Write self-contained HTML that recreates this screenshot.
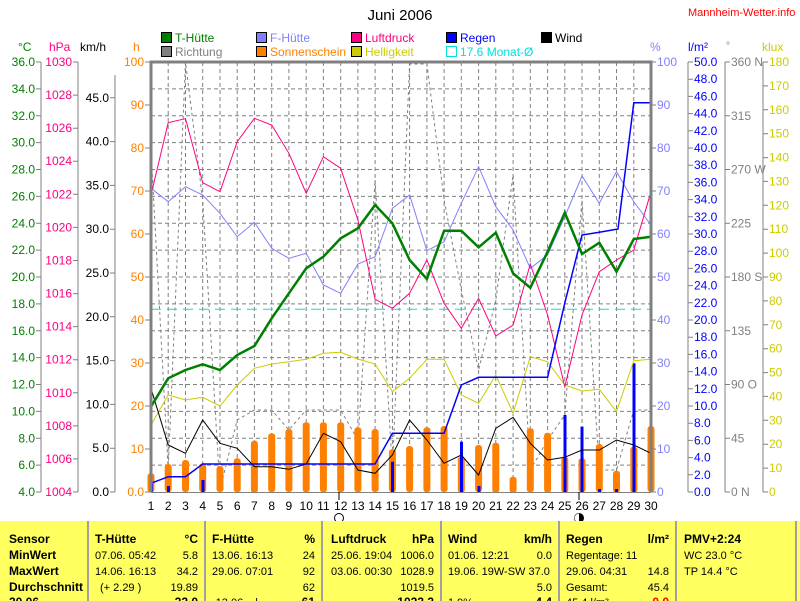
<!DOCTYPE html>
<html><head><meta charset="utf-8"><style>
body{margin:0;background:#fff;width:800px;height:601px;overflow:hidden;font-family:"Liberation Sans",sans-serif}
svg{position:absolute;left:0;top:0}
text{font-family:"Liberation Sans",sans-serif;font-size:12px}
.tb text{font-size:11px}
.tb .b text{font-size:12px}
</style></head><body>
<svg width="800" height="601" viewBox="0 0 800 601" xmlns="http://www.w3.org/2000/svg">
<text x="400" y="20" font-size="15" text-anchor="middle" style="font-size:15px">Juni 2006</text>
<text x="688" y="16" fill="#ff0000" style="font-size:11px">Mannheim-Wetter.info</text>
<g stroke="#000" stroke-width="1">
<rect x="161.5" y="32.5" width="10" height="10" fill="#008000"/>
<rect x="161.5" y="46.5" width="10" height="10" fill="#808080"/>
<rect x="256.5" y="32.5" width="10" height="10" fill="#8080ff"/>
<rect x="256.5" y="46.5" width="10" height="10" fill="#ff8000"/>
<rect x="351.5" y="32.5" width="10" height="10" fill="#ff0080"/>
<rect x="351.5" y="46.5" width="10" height="10" fill="#cccc00"/>
<rect x="446.5" y="32.5" width="10" height="10" fill="#0000ff"/>
<rect x="541.5" y="32.5" width="10" height="10" fill="#000"/>
</g>
<rect x="446.5" y="46.5" width="10" height="10" fill="none" stroke="#00e0e0"/>
<text x="175" y="42" fill="#008000">T-Hütte</text>
<text x="175" y="56" fill="#808080">Richtung</text>
<text x="270" y="42" fill="#8080ff">F-Hütte</text>
<text x="270" y="56" fill="#ff8000">Sonnenschein</text>
<text x="365" y="42" fill="#ff0080">Luftdruck</text>
<text x="365" y="56" fill="#cccc00">Helligkeit</text>
<text x="460" y="42" fill="#0000ff">Regen</text>
<text x="460" y="56" fill="#00e0e0">17.6 Monat-Ø</text>
<text x="555" y="42" fill="#000">Wind</text>
<text x="18" y="51" fill="#008000">°C</text>
<text x="49" y="51" fill="#ff0080">hPa</text>
<text x="80" y="51" fill="#000">km/h</text>
<text x="133" y="51" fill="#ff8000">h</text>
<text x="650" y="51" fill="#8080ff">%</text>
<text x="688" y="51" fill="#0000ff">l/m²</text>
<text x="726" y="49" fill="#808080" style="font-size:10px">°</text>
<text x="762" y="51" fill="#cccc00">klux</text>

<g stroke="#808080" stroke-dasharray="4,3" stroke-width="1" fill="none">
<path d="M151 88.9H651M151 115.8H651M151 142.6H651M151 169.5H651M151 196.4H651M151 223.3H651M151 250.1H651M151 277H651M151 303.9H651M151 330.8H651M151 357.6H651M151 384.5H651M151 411.4H651M151 438.3H651M151 465.1H651"/>
<path d="M168.2 62V492M185.5 62V492M202.7 62V492M220 62V492M237.2 62V492M254.4 62V492M271.7 62V492M288.9 62V492M306.2 62V492M323.4 62V492M340.7 62V492M357.9 62V492M375.1 62V492M392.4 62V492M409.6 62V492M426.9 62V492M444.1 62V492M461.3 62V492M478.6 62V492M495.8 62V492M513.1 62V492M530.3 62V492M547.6 62V492M564.8 62V492M582 62V492M599.3 62V492M616.5 62V492M633.8 62V492"/>
</g>
<polyline fill="none" stroke="#808080" stroke-dasharray="3,3" points="151,150 168.2,470 185.5,62 202.7,200 220,490 237.2,420 254.4,410 271.7,410 288.9,430 306.2,410 323.4,410 340.7,410 357.9,440 375.1,180 392.4,470 409.6,64 426.9,64 444.1,200 461.3,290 478.6,370 495.8,300 513.1,175 530.3,470 547.6,440 564.8,415 582,200 599.3,470 616.5,470 633.8,410 651,410"/>
<line x1="151" y1="309.3" x2="651" y2="309.3" stroke="#00e0e0" stroke-dasharray="10,6" stroke-width="1"/>
<g fill="#ff8000">
<rect x="147.5" y="473.3" width="7" height="19" rx="3"/>
<rect x="164.7" y="464" width="7" height="28" rx="3"/>
<rect x="182" y="460" width="7" height="32" rx="3"/>
<rect x="199.2" y="463.3" width="7" height="29" rx="3"/>
<rect x="216.5" y="466" width="7" height="26" rx="3"/>
<rect x="233.7" y="458.3" width="7" height="34" rx="3"/>
<rect x="250.9" y="440.7" width="7" height="52" rx="3"/>
<rect x="268.2" y="433.3" width="7" height="59" rx="3"/>
<rect x="285.4" y="429" width="7" height="63" rx="3"/>
<rect x="302.7" y="422.3" width="7" height="70" rx="3"/>
<rect x="319.9" y="422.3" width="7" height="70" rx="3"/>
<rect x="337.2" y="422.3" width="7" height="70" rx="3"/>
<rect x="354.4" y="427.3" width="7" height="65" rx="3"/>
<rect x="371.6" y="429" width="7" height="63" rx="3"/>
<rect x="388.9" y="449.3" width="7" height="43" rx="3"/>
<rect x="406.1" y="446" width="7" height="46" rx="3"/>
<rect x="423.4" y="427.3" width="7" height="65" rx="3"/>
<rect x="440.6" y="426" width="7" height="66" rx="3"/>
<rect x="457.8" y="456.7" width="7" height="36" rx="3"/>
<rect x="475.1" y="445" width="7" height="47" rx="3"/>
<rect x="492.3" y="442.7" width="7" height="50" rx="3"/>
<rect x="509.6" y="476.7" width="7" height="16" rx="3"/>
<rect x="526.8" y="428.3" width="7" height="64" rx="3"/>
<rect x="544.1" y="432.7" width="7" height="60" rx="3"/>
<rect x="561.3" y="456.7" width="7" height="36" rx="3"/>
<rect x="578.5" y="458.3" width="7" height="34" rx="3"/>
<rect x="595.8" y="444" width="7" height="48" rx="3"/>
<rect x="613" y="470.7" width="7" height="22" rx="3"/>
<rect x="630.3" y="446.7" width="7" height="46" rx="3"/>
<rect x="647.5" y="426" width="7" height="66" rx="3"/>
</g>
<g fill="#0000ff">
<rect x="150" y="484" width="3" height="8"/>
<rect x="167" y="486" width="3" height="6"/>
<rect x="201.5" y="480" width="3" height="12"/>
<rect x="391" y="461.7" width="3" height="30.3"/>
<rect x="460" y="441.7" width="3" height="50.3"/>
<rect x="477.5" y="486" width="3" height="6"/>
<rect x="563.5" y="415" width="3" height="77"/>
<rect x="580.5" y="426.7" width="3" height="65.3"/>
<rect x="598" y="489" width="3" height="3"/>
<rect x="615" y="489" width="3" height="3"/>
<rect x="632.5" y="363.3" width="3" height="128.7"/>
</g>
<polyline fill="none" stroke="#cccc00" points="151,425 168.2,395 185.5,400 202.7,397.3 220,406 237.2,385 254.4,368.3 271.7,364 288.9,361.7 306.2,359.3 323.4,353.3 340.7,352.3 357.9,359 375.1,364 392.4,391.7 409.6,378.3 426.9,359.3 444.1,359.3 461.3,395 478.6,403.3 495.8,375 513.1,413.3 530.3,356.7 547.6,361.7 564.8,385 582,391 599.3,389.3 616.5,411.7 633.8,360.7 651,359.3"/>
<polyline fill="none" stroke="#8080ff" points="151,188.3 168.2,201.7 185.5,186.7 202.7,195 220,213.3 237.2,236.7 254.4,222.3 271.7,248.3 288.9,258.3 306.2,253.3 323.4,285 340.7,293.3 357.9,264 375.1,256.7 392.4,208.3 409.6,195 426.9,250.7 444.1,241.7 461.3,203.3 478.6,166.7 495.8,206.7 513.1,230 530.3,268.3 547.6,255 564.8,216.7 582,176 599.3,203.3 616.5,171.7 633.8,201.7 651,225"/>
<polyline fill="none" stroke="#ff0080" points="151,195 168.2,122.7 185.5,118.7 202.7,182.7 220,191.7 237.2,141.7 254.4,118.3 271.7,125 288.9,153.3 306.2,193.3 323.4,156.7 340.7,168.3 357.9,220 375.1,299.3 392.4,308.3 409.6,293.3 426.9,260 444,303.3 461.3,328.3 478.6,298.3 495.8,336 513.1,325 530.3,264 547.6,315 564.8,386.7 582,315 599.3,271.7 616.5,260 633.8,250 651,191.7"/>
<polyline fill="none" stroke="#000" points="151,388.3 168.2,445 185.5,453.3 202.7,420 220,443.3 237.2,448.3 254.4,466.7 271.7,466.7 288.9,469.3 306.2,464 323.4,433.3 340.7,441.7 357.9,470 375.1,473.3 392.4,455 409.6,420 426.9,440 444.1,463.3 461.3,455 478.6,475 495.8,428.3 513.1,417.3 530.3,443.3 547.6,460 564.8,457.3 582,450 599.3,450 616.5,440 633.8,445 651,453.3"/>
<polyline fill="none" stroke="#0000ff" stroke-width="1.5" points="151,483.3 168.2,476.7 185.5,476.7 202.7,464 375.1,464 392.4,433.3 444.1,433.3 461.3,385 478.6,377.3 547.6,377.3 564.8,303 582,235 599.3,232.3 616.5,229.3 618,229 633.8,102.7 651,102.7"/>
<polyline fill="none" stroke="#008000" stroke-width="2.5" points="151,406.7 168.2,378.3 185.5,370 202.7,364.3 220,370 237.2,355 254.4,346 271.7,318.3 288.9,293.3 306.2,268.3 323.4,256.7 340.7,238.3 357.9,228.3 375.1,205 392.4,223.3 409.6,260 426.9,279 444.1,230.7 461.3,230.7 478.6,247.3 495.8,232.7 513.1,273.3 530.3,287.7 547.6,251.7 564.8,212.7 582,254 599.3,242.7 616.5,271.7 633.8,239 651,236.7"/>
<path d="M151 492V62H651V492" fill="none" stroke="#808080" stroke-width="3"/>
<line x1="151" y1="492.5" x2="651" y2="492.5" stroke="#808080" stroke-width="1"/>
<g font-size="12" text-anchor="middle" fill="#000">
<text x="151" y="510">1</text><text x="168.2" y="510">2</text><text x="185.5" y="510">3</text><text x="202.7" y="510">4</text><text x="220" y="510">5</text><text x="237.2" y="510">6</text><text x="254.4" y="510">7</text><text x="271.7" y="510">8</text><text x="288.9" y="510">9</text><text x="306.2" y="510">10</text><text x="323.4" y="510">11</text><text x="340.7" y="510">12</text><text x="357.9" y="510">13</text><text x="375.1" y="510">14</text><text x="392.4" y="510">15</text><text x="409.6" y="510">16</text><text x="426.9" y="510">17</text><text x="444.1" y="510">18</text><text x="461.3" y="510">19</text><text x="478.6" y="510">20</text><text x="495.8" y="510">21</text><text x="513.1" y="510">22</text><text x="530.3" y="510">23</text><text x="547.6" y="510">24</text><text x="564.8" y="510">25</text><text x="582" y="510">26</text><text x="599.3" y="510">27</text><text x="616.5" y="510">28</text><text x="633.8" y="510">29</text><text x="651" y="510">30</text>
</g>
<line x1="339" y1="492" x2="339" y2="500" stroke="#000"/>
<line x1="579" y1="492" x2="579" y2="500" stroke="#000"/>
<circle cx="339" cy="518" r="4.5" fill="#fff" stroke="#000"/>
<circle cx="579" cy="518" r="4.5" fill="#000" stroke="#000"/>
<path d="M579 513.5a4.5 4.5 0 0 0 0 9z" fill="#fff"/>
<g stroke="#808080" fill="none">
<path d="M41 62V492M78 62V492M115 75V492"/>
<path d="M36 62H41M36 88.9H41M36 115.8H41M36 142.6H41M36 169.5H41M36 196.4H41M36 223.3H41M36 250.1H41M36 277H41M36 303.9H41M36 330.8H41M36 357.6H41M36 384.5H41M36 411.4H41M36 438.3H41M36 465.1H41M36 492H41"/>
<path d="M73 62H78M73 95.1H78M73 128.2H78M73 161.2H78M73 194.3H78M73 227.4H78M73 260.5H78M73 293.6H78M73 326.6H78M73 359.7H78M73 392.8H78M73 425.9H78M73 458.9H78M73 492H78"/>
<path d="M110 97.8H115M110 141.6H115M110 185.4H115M110 229.2H115M110 273H115M110 316.8H115M110 360.6H115M110 404.4H115M110 448.2H115M110 492H115"/>
<path d="M145 62H151M145 105H151M145 148H151M145 191H151M145 234H151M145 277H151M145 320H151M145 363H151M145 406H151M145 449H151M145 492H151"/>
<path d="M651 62H656M651 105H656M651 148H656M651 191H656M651 234H656M651 277H656M651 320H656M651 363H656M651 406H656M651 449H656M651 492H656"/>
<path d="M688 62V492M725 62V492M763 62V492"/>
<path d="M688 62H693M688 79.2H693M688 96.4H693M688 113.6H693M688 130.8H693M688 148H693M688 165.2H693M688 182.4H693M688 199.6H693M688 216.8H693M688 234H693M688 251.2H693M688 268.4H693M688 285.6H693M688 302.8H693M688 320H693M688 337.2H693M688 354.4H693M688 371.6H693M688 388.8H693M688 406H693M688 423.2H693M688 440.4H693M688 457.6H693M688 474.8H693M688 492H693"/>
<path d="M725 62H730M725 115.75H730M725 169.5H730M725 223.25H730M725 277H730M725 330.75H730M725 384.5H730M725 438.25H730M725 492H730"/>
<path d="M763 62H768M763 85.9H768M763 109.8H768M763 133.7H768M763 157.6H768M763 181.4H768M763 205.3H768M763 229.2H768M763 253.1H768M763 277H768M763 300.9H768M763 324.8H768M763 348.7H768M763 372.6H768M763 396.4H768M763 420.3H768M763 444.2H768M763 468.1H768M763 492H768"/>
</g>
<g text-anchor="end" fill="#008000">
<text x="35" y="66">36.0</text><text x="35" y="92.9">34.0</text><text x="35" y="119.8">32.0</text><text x="35" y="146.6">30.0</text><text x="35" y="173.5">28.0</text><text x="35" y="200.4">26.0</text><text x="35" y="227.3">24.0</text><text x="35" y="254.1">22.0</text><text x="35" y="281">20.0</text><text x="35" y="307.9">18.0</text><text x="35" y="334.8">16.0</text><text x="35" y="361.6">14.0</text><text x="35" y="388.5">12.0</text><text x="35" y="415.4">10.0</text><text x="35" y="442.3">8.0</text><text x="35" y="469.1">6.0</text><text x="35" y="496">4.0</text>
</g>
<g text-anchor="end" fill="#ff0080">
<text x="72" y="66">1030</text><text x="72" y="99.1">1028</text><text x="72" y="132.2">1026</text><text x="72" y="165.2">1024</text><text x="72" y="198.3">1022</text><text x="72" y="231.4">1020</text><text x="72" y="264.5">1018</text><text x="72" y="297.6">1016</text><text x="72" y="330.6">1014</text><text x="72" y="363.7">1012</text><text x="72" y="396.8">1010</text><text x="72" y="429.9">1008</text><text x="72" y="462.9">1006</text><text x="72" y="496">1004</text>
</g>
<g text-anchor="end" fill="#000">
<text x="109" y="101.8">45.0</text><text x="109" y="145.6">40.0</text><text x="109" y="189.4">35.0</text><text x="109" y="233.2">30.0</text><text x="109" y="277">25.0</text><text x="109" y="320.8">20.0</text><text x="109" y="364.6">15.0</text><text x="109" y="408.4">10.0</text><text x="109" y="452.2">5.0</text><text x="109" y="496">0.0</text>
</g>
<g text-anchor="end" fill="#ff8000">
<text x="144" y="66">100</text><text x="144" y="109">90</text><text x="144" y="152">80</text><text x="144" y="195">70</text><text x="144" y="238">60</text><text x="144" y="281">50</text><text x="144" y="324">40</text><text x="144" y="367">30</text><text x="144" y="410">20</text><text x="144" y="453">10</text><text x="144" y="496">0.0</text>
</g>
<g fill="#8080ff">
<text x="657" y="66">100</text><text x="657" y="109">90</text><text x="657" y="152">80</text><text x="657" y="195">70</text><text x="657" y="238">60</text><text x="657" y="281">50</text><text x="657" y="324">40</text><text x="657" y="367">30</text><text x="657" y="410">20</text><text x="657" y="453">10</text><text x="657" y="496">0</text>
</g>
<g fill="#0000ff">
<text x="694" y="66">50.0</text><text x="694" y="83.2">48.0</text><text x="694" y="100.4">46.0</text><text x="694" y="117.6">44.0</text><text x="694" y="134.8">42.0</text><text x="694" y="152">40.0</text><text x="694" y="169.2">38.0</text><text x="694" y="186.4">36.0</text><text x="694" y="203.6">34.0</text><text x="694" y="220.8">32.0</text><text x="694" y="238">30.0</text><text x="694" y="255.2">28.0</text><text x="694" y="272.4">26.0</text><text x="694" y="289.6">24.0</text><text x="694" y="306.8">22.0</text><text x="694" y="324">20.0</text><text x="694" y="341.2">18.0</text><text x="694" y="358.4">16.0</text><text x="694" y="375.6">14.0</text><text x="694" y="392.8">12.0</text><text x="694" y="410">10.0</text><text x="694" y="427.2">8.0</text><text x="694" y="444.4">6.0</text><text x="694" y="461.6">4.0</text><text x="694" y="478.8">2.0</text><text x="694" y="496">0.0</text>
</g>
<g fill="#808080">
<text x="731" y="66">360 N</text><text x="731" y="119.75">315</text><text x="731" y="173.5">270 W</text><text x="731" y="227.25">225</text><text x="731" y="281">180 S</text><text x="731" y="334.75">135</text><text x="731" y="388.5">90  O</text><text x="731" y="442.25">45</text><text x="731" y="496">0  N</text>
</g>
<g fill="#cccc00">
<text x="769" y="66">180</text><text x="769" y="89.9">170</text><text x="769" y="113.8">160</text><text x="769" y="137.7">150</text><text x="769" y="161.6">140</text><text x="769" y="185.4">130</text><text x="769" y="209.3">120</text><text x="769" y="233.2">110</text><text x="769" y="257.1">100</text><text x="769" y="281">90</text><text x="769" y="304.9">80</text><text x="769" y="328.8">70</text><text x="769" y="352.7">60</text><text x="769" y="376.6">50</text><text x="769" y="400.4">40</text><text x="769" y="424.3">30</text><text x="769" y="448.2">20</text><text x="769" y="472.1">10</text><text x="769" y="496">0</text>
</g>

<rect x="0" y="521" width="800" height="80" fill="#ffff60"/>
<g stroke="#a0a0a0" stroke-width="2">
<line x1="88" y1="521" x2="88" y2="601"/><line x1="205" y1="521" x2="205" y2="601"/><line x1="322" y1="521" x2="322" y2="601"/><line x1="441" y1="521" x2="441" y2="601"/><line x1="559" y1="521" x2="559" y2="601"/><line x1="676" y1="521" x2="676" y2="601"/><line x1="796" y1="521" x2="796" y2="601"/>
</g>
<g fill="#000" class="tb">
<g font-weight="bold" class="b">
<text x="9" y="543">Sensor</text><text x="9" y="559">MinWert</text><text x="9" y="575">MaxWert</text><text x="9" y="591">Durchschnitt</text><text x="9" y="606">20.06.</text>
<text x="95" y="543">T-Hütte</text><text x="198" y="543" text-anchor="end">°C</text>
<text x="212" y="543">F-Hütte</text><text x="315" y="543" text-anchor="end">%</text>
<text x="331" y="543">Luftdruck</text><text x="434" y="543" text-anchor="end">hPa</text>
<text x="448" y="543">Wind</text><text x="552" y="543" text-anchor="end">km/h</text>
<text x="566" y="543">Regen</text><text x="669" y="543" text-anchor="end">l/m²</text>
<text x="684" y="543">PMV+2:24</text>
<text x="198" y="606" text-anchor="end">22.0</text><text x="315" y="606" text-anchor="end">61</text><text x="434" y="606" text-anchor="end">1023.3</text><text x="552" y="606" text-anchor="end">4.4</text><text x="669" y="606" text-anchor="end" fill="#ff0000">0.0</text>
</g>
<text x="95" y="559">07.06.  05:42</text><text x="198" y="559" text-anchor="end">5.8</text>
<text x="95" y="575">14.06.  16:13</text><text x="198" y="575" text-anchor="end">34.2</text>
<text x="100" y="591">(+ 2.29 )</text><text x="198" y="591" text-anchor="end">19.89</text>
<text x="212" y="559">13.06.  16:13</text><text x="315" y="559" text-anchor="end">24</text>
<text x="212" y="575">29.06.  07:01</text><text x="315" y="575" text-anchor="end">92</text>
<text x="315" y="591" text-anchor="end">62</text>
<text x="331" y="559">25.06.  19:04</text><text x="434" y="559" text-anchor="end">1006.0</text>
<text x="331" y="575">03.06.  00:30</text><text x="434" y="575" text-anchor="end">1028.9</text>
<text x="434" y="591" text-anchor="end">1019.5</text>
<text x="448" y="559">01.06.  12:21</text><text x="552" y="559" text-anchor="end">0.0</text>
<text x="448" y="575">19.06.  19W-SW 37.0</text>
<text x="552" y="591" text-anchor="end">5.0</text>
<text x="566" y="559">Regentage: 11</text>
<text x="566" y="575">29.06.  04:31</text><text x="669" y="575" text-anchor="end">14.8</text>
<text x="566" y="591">Gesamt:</text><text x="669" y="591" text-anchor="end">45.4</text>
<text x="684" y="559">WC 23.0 °C</text>
<text x="684" y="575">TP 14.4 °C</text>
<text x="212" y="606">-13.06. ..l. ~</text><text x="448" y="606">1.9%</text><text x="566" y="606">45.4 l/m²</text>
</g>
</svg>
</body></html>
